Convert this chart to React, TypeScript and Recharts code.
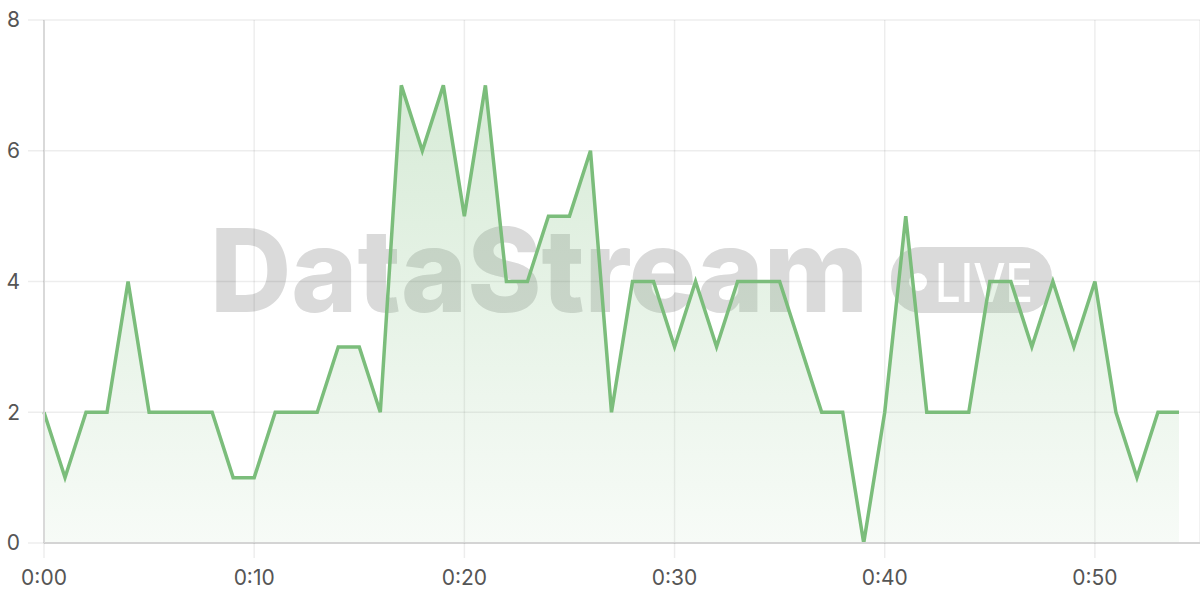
import { AreaChart, Area, XAxis, YAxis, CartesianGrid } from 'recharts';

// one reading per minute, 0:00 .. 0:54
const minutes = [
  0, 1, 2, 3, 4, 5, 6, 7, 8, 9, 10, 11, 12, 13, 14, 15, 16, 17, 18, 19, 20, 21, 22, 23, 24, 25, 26,
  27, 28, 29, 30, 31, 32, 33, 34, 35, 36, 37, 38, 39, 40, 41, 42, 43, 44, 45, 46, 47, 48, 49, 50, 51,
  52, 53, 54,
];
const counts = [
  2, 1, 2, 2, 4, 2, 2, 2, 2, 1, 1, 2, 2, 2, 3, 3, 2, 7, 6, 7, 5, 7, 4, 4, 5, 5, 6,
  2, 4, 4, 3, 4, 3, 4, 4, 4, 3, 2, 2, 0, 2, 5, 2, 2, 2, 4, 4, 3, 4, 3, 4, 2,
  1, 2, 2,
];
const xTicks = [0, 10, 20, 30, 40, 50];
const yTicks = [0, 2, 4, 6, 8];

const data = minutes.map((m, i) => ({ t: m, value: counts[i] }));

const green = '#7bbd7b';
const font = 'Inter, "Open Sans", sans-serif';

const fmtTime = (m: number) => `${Math.floor(m / 60)}:${String(m % 60).padStart(2, '0')}`;

function Watermark() {
  return (
    <svg width={1200} height={600} style={{ position: 'absolute', left: 0, top: 0 }}>
      <text
        x={210}
        y={312}
        fontFamily={font}
        fontWeight={800}
        fontSize={116}
        fill="#dadada"
        textLength={658}
        lengthAdjust="spacingAndGlyphs"
      >
        DataStream
      </text>
      <rect x={891} y={247} width={161} height={66} rx={30} fill="#dadada" />
      <circle cx={918} cy={282} r={9} fill="#ffffff" />
      <text
        x={935}
        y={302}
        fontFamily={font}
        fontWeight={500}
        fontSize={54}
        fill="#ffffff"
        textLength={98}
        lengthAdjust="spacingAndGlyphs"
      >
        LIVE
      </text>
    </svg>
  );
}

export default function App() {
  return (
    <div style={{ position: 'absolute', left: 0, top: 0, width: 1200, height: 600, background: '#fff' }}>
      <Watermark />
      <div style={{ position: 'absolute', left: 0, top: 0 }}>
        <AreaChart width={1200} height={600} data={data} margin={{ top: 20, right: 0, bottom: 0, left: 0 }}>
          <defs>
            <linearGradient id="fillGreen" x1="0" y1="0" x2="0" y2="1">
              <stop offset="0%" stopColor={green} stopOpacity={0.3} />
              <stop offset="100%" stopColor={green} stopOpacity={0.06} />
            </linearGradient>
          </defs>
          <CartesianGrid stroke="rgba(0,0,0,0.07)" strokeWidth={1.5} />
          <XAxis
            dataKey="t"
            type="number"
            domain={[0, 55]}
            ticks={xTicks}
            tickFormatter={fmtTime}
            height={57}
            tickSize={15}
            tickMargin={12}
            axisLine={{ stroke: '#d4d4d4', strokeWidth: 2 }}
            tickLine={{ stroke: 'rgba(0,0,0,0.07)', strokeWidth: 1.5 }}
            tick={{ fill: '#555', fontSize: 21, fontFamily: font }}
          />
          <YAxis
            domain={[0, 8]}
            ticks={yTicks}
            width={44}
            tickSize={16}
            tickMargin={8}
            axisLine={{ stroke: '#d9d9d9', strokeWidth: 2 }}
            tickLine={{ stroke: 'rgba(0,0,0,0.07)', strokeWidth: 1.5 }}
            tick={{ fill: '#555', fontSize: 21, fontFamily: font }}
          />
          <Area
            type="linear"
            dataKey="value"
            stroke={green}
            strokeWidth={3.5}
            fill="url(#fillGreen)"
            fillOpacity={1}
            dot={false}
            activeDot={false}
            isAnimationActive={false}
          />
        </AreaChart>
      </div>
    </div>
  );
}
